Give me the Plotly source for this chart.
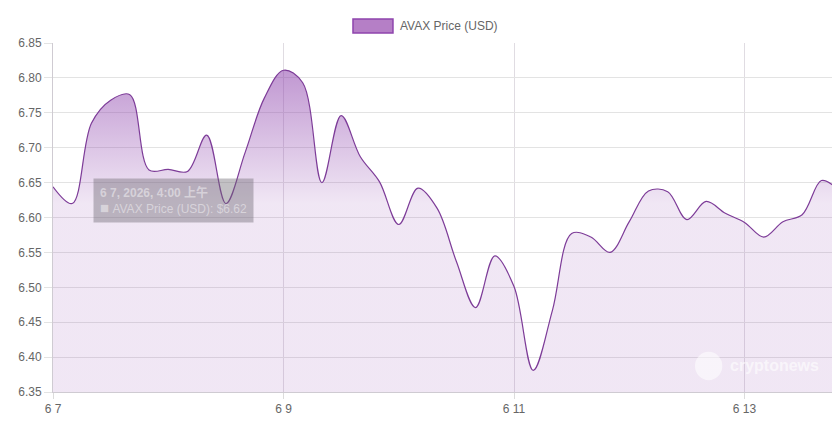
import pandas as pd
import plotly.graph_objects as go

# AVAX price, one reading every 4 hours from 6/7 00:00, plus the latest reading
prices = [6.644, 6.620, 6.735, 6.768, 6.776, 6.668, 6.669, 6.666, 6.718, 6.620,
          6.693, 6.771, 6.811, 6.793, 6.650, 6.746, 6.687, 6.651, 6.590, 6.642,
          6.613, 6.537, 6.471, 6.545, 6.501, 6.381, 6.467, 6.577, 6.572, 6.550,
          6.594, 6.638, 6.637, 6.597, 6.623, 6.606, 6.593, 6.572, 6.594, 6.604,
          6.653, 6.645]
times = list(pd.date_range("2026-06-07 00:00", periods=41, freq="4h")) + [pd.Timestamp("2026-06-13 18:38")]

tick_dates = ["2026-06-07", "2026-06-09", "2026-06-11", "2026-06-13"]
tick_labels = ["6 7", "6 9", "6 11", "6 13"]
y_ticks = [6.35, 6.40, 6.45, 6.50, 6.55, 6.60, 6.65, 6.70, 6.75, 6.80, 6.85]

series_name = "AVAX Price (USD)"
tip_title = "6 7, 2026, 4:00 上午"
tip_index = 1

FONT = "Liberation Sans, Arial, Noto Sans CJK SC, sans-serif"
PURPLE = "#7d3c98"

fig = go.Figure()
fig.add_trace(go.Scatter(
    x=times, y=prices, mode="lines", name=series_name, showlegend=False,
    line=dict(color=PURPLE, width=1.2, shape="spline", smoothing=1.0),
    fill="tozeroy",
    fillgradient=dict(type="vertical",
                      colorscale=[[0, "rgba(142,68,173,0.13)"], [1, "rgba(142,68,173,0.55)"]],
                      start=6.62, stop=6.81),
    hoverinfo="skip",
))

# faded tooltip left on the chart
fig.add_annotation(
    x=times[tip_index], y=prices[tip_index], xref="x", yref="y",
    text="<b>%s</b><br><span style='font-size:15px'>■</span> %s: $%.2f" % (
        tip_title, series_name, prices[tip_index]),
    showarrow=False, xanchor="left", yanchor="middle", xshift=21, yshift=3,
    align="left", bgcolor="rgba(110,105,115,0.42)", borderpad=6,
    font=dict(family=FONT, size=12, color="rgba(255,255,255,0.45)"),
)

# chart.js style legend box
fig.add_shape(type="rect", xref="paper", yref="paper", x0=0.3841, x1=0.4353, y0=1.0287, y1=1.0688,
              fillcolor="#b57fc6", line=dict(color="#8e44ad", width=1.5))
fig.add_annotation(xref="paper", yref="paper", x=0.442, y=1.0487, text=series_name, showarrow=False,
                   xanchor="left", yanchor="middle", font=dict(family=FONT, size=12, color="#666666"))

# watermark
fig.add_shape(type="circle", xref="paper", yref="paper", x0=0.822, x1=0.857, y0=0.034, y1=0.115,
              fillcolor="rgba(255,255,255,0.55)", line=dict(width=0))
fig.add_annotation(xref="paper", yref="paper", x=0.864, y=0.075, text="<b>cryptonews</b>", showarrow=False,
                   xanchor="left", yanchor="middle",
                   font=dict(family=FONT, size=16, color="rgba(255,255,255,0.6)"))

# page body has an 8px margin, so the figure is 8px smaller each way
fig.update_layout(
    width=832, height=418,
    margin=dict(l=45, r=6, t=35, b=34),
    paper_bgcolor="white", plot_bgcolor="white",
    font=dict(family=FONT, size=12, color="#666666"),
    hovermode=False,
)
fig.update_xaxes(
    range=[times[0], times[-1]], tickvals=tick_dates, ticktext=tick_labels,
    showgrid=True, gridcolor="#e0dce2", gridwidth=1,
    showline=True, linecolor="#cfcbd2", linewidth=1,
    ticks="outside", ticklen=6, tickcolor="#dcdcdc", zeroline=False,
    tickfont=dict(size=12, color="#666666"), automargin=False,
)
fig.update_yaxes(
    range=[6.35, 6.85], tickvals=y_ticks, tickformat=".2f",
    showgrid=True, gridcolor="#e3e3e3", gridwidth=1,
    showline=True, linecolor="#cfcbd2", linewidth=1,
    ticks="outside", ticklen=8, tickcolor="#e3e3e3", zeroline=False,
    tickfont=dict(size=12, color="#666666"), automargin=False,
)

fig.write_html("out.html")
